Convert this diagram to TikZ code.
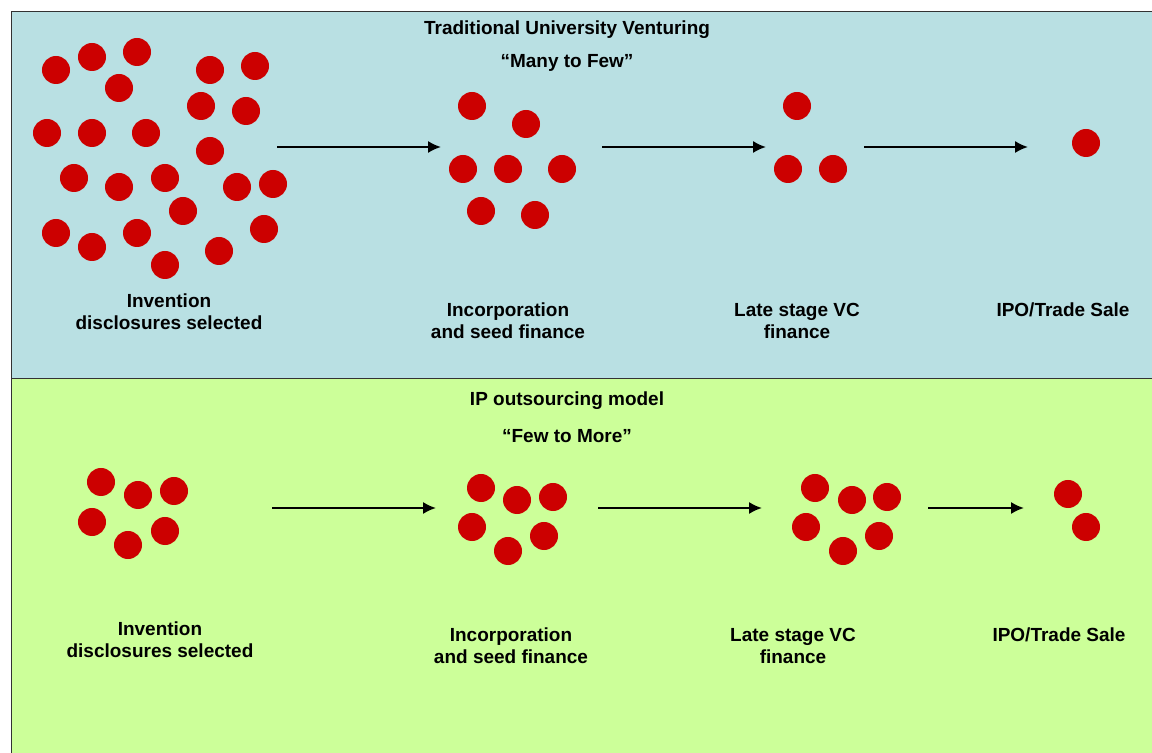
\documentclass[tikz,border=0pt]{standalone}
\usepackage{fontspec}
\setmainfont{Liberation Sans}
\usepackage{xcolor}
\usetikzlibrary{arrows.meta}
\definecolor{panelblue}{rgb}{0.725, 0.878, 0.890}
\definecolor{panelgreen}{rgb}{0.800, 1.000, 0.600}
\definecolor{dotred}{rgb}{0.800, 0.000, 0.000}

\tikzset{
  dot/.style={circle, fill=dotred, minimum size=0.7cm, inner sep=0pt},
  stagetext/.style={align=center, font=\bfseries\fontsize{13.5}{15.6}\selectfont},
  headtext/.style={font=\bfseries\fontsize{13.5}{15.6}\selectfont},
  flow/.style={line width=1.6pt, -{Latex[length=3.2mm, width=3mm]}}
}

\begin{document}
\begin{tikzpicture}[x=0.025cm, y=-0.025cm]

\useasboundingbox (0,0) rectangle (1152,753);

%panels
\draw[fill=panelblue, draw=black!80, line width=0.6pt] (11,11) rectangle (1165,378);
\draw[fill=panelgreen, draw=black!80, line width=0.6pt] (11,378) rectangle (1165,765);

\begin{scope}

%headings
\node[headtext] (htop) at (567, 30) {Traditional University Venturing};
\node[headtext] (qtop) at (567, 63) {“Many to Few”};

%invention disclosures
\node[dot] (tA1) at (56, 70) {};
\node[dot] (tA2) at (92, 57) {};
\node[dot] (tA3) at (137, 52) {};
\node[dot] (tA4) at (119, 88) {};
\node[dot] (tA5) at (210, 70) {};
\node[dot] (tA6) at (255, 66) {};
\node[dot] (tA7) at (201, 106) {};
\node[dot] (tA8) at (246, 111) {};
\node[dot] (tA9) at (47, 133) {};
\node[dot] (tA10) at (92, 133) {};
\node[dot] (tA11) at (146, 133) {};
\node[dot] (tA12) at (210, 151) {};
\node[dot] (tA13) at (74, 178) {};
\node[dot] (tA14) at (119, 187) {};
\node[dot] (tA15) at (165, 178) {};
\node[dot] (tA16) at (237, 187) {};
\node[dot] (tA17) at (273, 184) {};
\node[dot] (tA18) at (183, 211) {};
\node[dot] (tA19) at (56, 233) {};
\node[dot] (tA20) at (92, 247) {};
\node[dot] (tA21) at (137, 233) {};
\node[dot] (tA22) at (219, 251) {};
\node[dot] (tA23) at (264, 229) {};
\node[dot] (tA24) at (165, 265) {};

%seed stage
\node[dot] (tB1) at (472, 106) {};
\node[dot] (tB2) at (526, 124) {};
\node[dot] (tB3) at (463, 169) {};
\node[dot] (tB4) at (508, 169) {};
\node[dot] (tB5) at (562, 169) {};
\node[dot] (tB6) at (481, 211) {};
\node[dot] (tB7) at (535, 215) {};

%late stage
\node[dot] (tC1) at (797, 106) {};
\node[dot] (tC2) at (788, 169) {};
\node[dot] (tC3) at (833, 169) {};

%exit
\node[dot] (tD1) at (1086, 143) {};

%arrows
\coordinate (ta1) at (277, 147);
\coordinate (ta2) at (441, 147);
\coordinate (tb1) at (602, 147);
\coordinate (tb2) at (766, 147);
\coordinate (tc1) at (864, 147);
\coordinate (tc2) at (1028, 147);
\draw[flow] (ta1) -- (ta2);
\draw[flow] (tb1) -- (tb2);
\draw[flow] (tc1) -- (tc2);

%stage labels
\node[stagetext] (tlA) at (169, 312) {Invention\\disclosures selected};
\node[stagetext] (tlB) at (508, 321) {Incorporation\\and seed finance};
\node[stagetext] (tlC) at (797, 321) {Late stage VC\\finance};
\node[stagetext] (tlD) at (1063, 310) {IPO/Trade Sale};

\end{scope}

\begin{scope}

%headings
\node[headtext] (hbot) at (567, 401) {IP outsourcing model};
\node[headtext] (qbot) at (567, 436) {“Few to More”};

%invention disclosures
\node[dot] (bA1) at (101, 482) {};
\node[dot] (bA2) at (138, 495) {};
\node[dot] (bA3) at (174, 491) {};
\node[dot] (bA4) at (92, 522) {};
\node[dot] (bA5) at (165, 531) {};
\node[dot] (bA6) at (128, 545) {};

%seed stage
\node[dot] (bB1) at (481, 488) {};
\node[dot] (bB2) at (517, 500) {};
\node[dot] (bB3) at (553, 497) {};
\node[dot] (bB4) at (472, 527) {};
\node[dot] (bB5) at (544, 536) {};
\node[dot] (bB6) at (508, 551) {};

%late stage
\node[dot] (bC1) at (815, 488) {};
\node[dot] (bC2) at (852, 500) {};
\node[dot] (bC3) at (887, 497) {};
\node[dot] (bC4) at (806, 527) {};
\node[dot] (bC5) at (879, 536) {};
\node[dot] (bC6) at (843, 551) {};

%exit
\node[dot] (bD1) at (1068, 494) {};
\node[dot] (bD2) at (1086, 527) {};

%arrows
\coordinate (ba1) at (272, 508);
\coordinate (ba2) at (436, 508);
\coordinate (bb1) at (598, 508);
\coordinate (bb2) at (762, 508);
\coordinate (bc1) at (928, 508);
\coordinate (bc2) at (1024, 508);
\draw[flow] (ba1) -- (ba2);
\draw[flow] (bb1) -- (bb2);
\draw[flow] (bc1) -- (bc2);

%stage labels
\node[stagetext] (blA) at (160, 640) {Invention\\disclosures selected};
\node[stagetext] (blB) at (511, 646) {Incorporation\\and seed finance};
\node[stagetext] (blC) at (793, 646) {Late stage VC\\finance};
\node[stagetext] (blD) at (1059, 635) {IPO/Trade Sale};

\end{scope}

\end{tikzpicture}
\end{document}
